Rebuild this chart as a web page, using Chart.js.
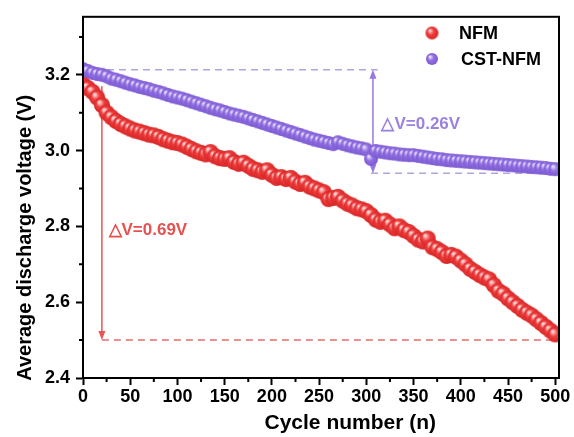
<!DOCTYPE html>
<html>
<head>
<meta charset="utf-8">
<script src="https://cdn.jsdelivr.net/npm/chart.js@4.4.0/dist/chart.umd.min.js"></script>
<style>
  html, body { margin: 0; padding: 0; background: #fff; }
</style>
</head>
<body>
<canvas id="chart" width="574" height="437"></canvas>
<script>
// cycle numbers sampled from the plot (every 5 cycles)
const cycles = [0, 5, 10, 15, 20, 25, 30, 35, 40, 45, 50, 55, 60, 65, 70, 75, 80, 85, 90, 95,
  100, 105, 110, 115, 120, 125, 130, 135, 140, 145, 150, 155, 160, 165, 170, 175, 180, 185, 190, 195,
  200, 205, 210, 215, 220, 225, 230, 235, 240, 245, 250, 255, 260, 265, 270, 275, 280, 285, 290, 295,
  300, 305, 310, 315, 320, 325, 330, 335, 340, 345, 350, 355, 360, 365, 370, 375, 380, 385, 390, 395,
  400, 405, 410, 415, 420, 425, 430, 435, 440, 445, 450, 455, 460, 465, 470, 475, 480, 485, 490, 495, 500];

// NFM average discharge voltage (V)
const nfm = [3.175, 3.165, 3.155, 3.14, 3.12, 3.10, 3.088, 3.078, 3.07, 3.064,
  3.058, 3.053, 3.05, 3.046, 3.042, 3.04, 3.036, 3.03, 3.026, 3.022,
  3.02, 3.016, 3.01, 3.004, 2.998, 2.994, 2.99, 2.996, 2.985, 2.98,
  2.978, 2.98, 2.97, 2.965, 2.968, 2.96, 2.952, 2.948, 2.944, 2.948,
  2.936, 2.928, 2.93, 2.925, 2.928, 2.918, 2.912, 2.915, 2.905, 2.90,
  2.895, 2.89, 2.872, 2.875, 2.878, 2.868, 2.86, 2.855, 2.848, 2.845,
  2.84, 2.83, 2.818, 2.812, 2.815, 2.805, 2.795, 2.80, 2.79, 2.785,
  2.775, 2.765, 2.76, 2.768, 2.745, 2.74, 2.732, 2.722, 2.725, 2.72,
  2.71, 2.70, 2.688, 2.68, 2.672, 2.665, 2.66, 2.645, 2.63, 2.622,
  2.61, 2.60, 2.59, 2.58, 2.572, 2.565, 2.555, 2.545, 2.535, 2.525, 2.515];

// CST-NFM average discharge voltage (V)
const cstNfm = [3.215, 3.21, 3.205, 3.202, 3.20, 3.196, 3.19, 3.187, 3.183, 3.179,
  3.175, 3.172, 3.168, 3.165, 3.162, 3.158, 3.155, 3.151, 3.147, 3.143,
  3.14, 3.137, 3.133, 3.129, 3.125, 3.121, 3.117, 3.113, 3.109, 3.106,
  3.102, 3.098, 3.095, 3.092, 3.089, 3.085, 3.081, 3.077, 3.073, 3.069,
  3.065, 3.061, 3.057, 3.053, 3.049, 3.045, 3.041, 3.037, 3.033, 3.029,
  3.026, 3.023, 3.02, 3.017, 3.022, 3.018, 3.014, 3.011, 3.008, 3.006,
  3.003, 2.978, 2.999, 2.997, 2.995, 2.993, 2.992, 2.99, 2.989, 2.988,
  2.988, 2.986, 2.984, 2.982, 2.98, 2.978, 2.977, 2.975, 2.974, 2.973,
  2.972, 2.971, 2.97, 2.969, 2.968, 2.967, 2.966, 2.965, 2.964, 2.963,
  2.962, 2.961, 2.96, 2.959, 2.958, 2.957, 2.956, 2.955, 2.954, 2.952, 2.951];

// axis ticks
const xTicks = [0, 50, 100, 150, 200, 250, 300, 350, 400, 450, 500];
const xMinor = [25, 75, 125, 175, 225, 275, 325, 375, 425, 475];
const yTicks = [2.4, 2.6, 2.8, 3.0, 3.2];
const yMinor = [2.5, 2.7, 2.9, 3.1, 3.3];

const xTitle = 'Cycle number (n)';
const yTitle = 'Average discharge voltage (V)';

// delta V annotations
const nfmDrop = { x: 20, from: 3.17, to: 2.5, lineEnd: 500, label: '△V=0.69V', labelX: 27, labelY: 2.789 };
const cstDrop = { x: 307, from: 3.213, to: 2.94, topLine: [0, 312], bottomLine: [305, 500], label: '△V=0.26V', labelX: 316, labelY: 3.069 };

const FONT = '"Liberation Sans", Arial, Helvetica, sans-serif';
const RED = 'rgb(240,62,62)';
const PURPLE = 'rgb(146,112,226)';

// glossy ball used as the point style
function makeBall(r, base, dark, light) {
  const c = document.createElement('canvas');
  c.width = c.height = Math.ceil(2 * r + 2);
  const g = c.getContext('2d');
  const m = c.width / 2;
  const grad = g.createRadialGradient(m - r * 0.35, m - r * 0.4, r * 0.08, m, m, r);
  grad.addColorStop(0, light);
  grad.addColorStop(0.45, base);
  grad.addColorStop(1, dark);
  g.fillStyle = grad;
  g.beginPath();
  g.arc(m, m, r, 0, Math.PI * 2);
  g.fill();
  return c;
}

const redBall = makeBall(8, RED, 'rgb(215,38,38)', 'rgb(255,220,220)');
const purpleBall = makeBall(7, PURPLE, 'rgb(124,90,210)', 'rgb(232,222,255)');
const redBallLegend = makeBall(6.5, RED, 'rgb(215,38,38)', 'rgb(255,220,220)');
const purpleBallLegend = makeBall(6, PURPLE, 'rgb(124,90,210)', 'rgb(232,222,255)');

function arrowHead(ctx, x, y, dir) {
  // dir = 1 pointing down, -1 pointing up
  ctx.beginPath();
  ctx.moveTo(x, y);
  ctx.lineTo(x - 3.5, y - dir * 9);
  ctx.lineTo(x + 3.5, y - dir * 9);
  ctx.closePath();
  ctx.fill();
}

const annotations = {
  id: 'annotations',
  beforeDatasetsDraw(chart) {
    const { ctx, scales: { x, y } } = chart;
    ctx.save();
    ctx.lineWidth = 1.5;

    // NFM dashed level + arrow
    ctx.strokeStyle = 'rgba(226,90,90,0.9)';
    ctx.setLineDash([7, 5]);
    ctx.beginPath();
    ctx.moveTo(x.getPixelForValue(nfmDrop.x), y.getPixelForValue(nfmDrop.to));
    ctx.lineTo(x.getPixelForValue(nfmDrop.lineEnd), y.getPixelForValue(nfmDrop.to));
    ctx.stroke();
    ctx.setLineDash([]);
    ctx.strokeStyle = 'rgb(232,84,84)';
    ctx.fillStyle = 'rgb(232,84,84)';
    const rx = x.getPixelForValue(nfmDrop.x);
    ctx.beginPath();
    ctx.moveTo(rx, y.getPixelForValue(nfmDrop.from));
    ctx.lineTo(rx, y.getPixelForValue(nfmDrop.to) - 4);
    ctx.stroke();
    arrowHead(ctx, rx, y.getPixelForValue(nfmDrop.to), 1);

    // CST-NFM dashed levels + double arrow
    ctx.strokeStyle = 'rgba(170,155,220,0.9)';
    ctx.setLineDash([7, 5]);
    ctx.beginPath();
    ctx.moveTo(x.getPixelForValue(cstDrop.topLine[0]), y.getPixelForValue(cstDrop.from));
    ctx.lineTo(x.getPixelForValue(cstDrop.topLine[1]), y.getPixelForValue(cstDrop.from));
    ctx.moveTo(x.getPixelForValue(cstDrop.bottomLine[0]), y.getPixelForValue(cstDrop.to));
    ctx.lineTo(x.getPixelForValue(cstDrop.bottomLine[1]), y.getPixelForValue(cstDrop.to));
    ctx.stroke();
    ctx.setLineDash([]);
    ctx.strokeStyle = 'rgb(150,120,225)';
    ctx.fillStyle = 'rgb(150,120,225)';
    const px = x.getPixelForValue(cstDrop.x);
    ctx.beginPath();
    ctx.moveTo(px, y.getPixelForValue(cstDrop.from) + 4);
    ctx.lineTo(px, y.getPixelForValue(cstDrop.to) - 4);
    ctx.stroke();
    arrowHead(ctx, px, y.getPixelForValue(cstDrop.from), -1);
    arrowHead(ctx, px, y.getPixelForValue(cstDrop.to), 1);

    // labels
    ctx.font = 'bold 17px ' + FONT;
    ctx.textAlign = 'left';
    ctx.textBaseline = 'middle';
    ctx.fillStyle = 'rgb(230,80,78)';
    ctx.fillText(nfmDrop.label, x.getPixelForValue(nfmDrop.labelX), y.getPixelForValue(nfmDrop.labelY));
    ctx.fillStyle = 'rgb(155,130,222)';
    ctx.fillText(cstDrop.label, x.getPixelForValue(cstDrop.labelX), y.getPixelForValue(cstDrop.labelY));
    ctx.restore();
  },
  afterDraw(chart) {
    const { ctx, chartArea: a, scales: { x, y } } = chart;
    ctx.save();
    // frame
    ctx.strokeStyle = '#000';
    ctx.lineWidth = 2;
    ctx.strokeRect(a.left, a.top, a.right - a.left, a.bottom - a.top);
    // minor ticks
    ctx.beginPath();
    xMinor.forEach(v => {
      const p = x.getPixelForValue(v);
      ctx.moveTo(p, a.bottom);
      ctx.lineTo(p, a.bottom + 4);
    });
    yMinor.forEach(v => {
      const p = y.getPixelForValue(v);
      ctx.moveTo(a.left, p);
      ctx.lineTo(a.left - 4, p);
    });
    ctx.stroke();

    // axis titles (sit a little off-centre in the original figure)
    ctx.fillStyle = '#000';
    ctx.font = 'bold 21px ' + FONT;
    ctx.textAlign = 'center';
    ctx.textBaseline = 'middle';
    ctx.fillText(xTitle, x.getPixelForValue(283), 423);
    ctx.save();
    ctx.font = 'bold 20px ' + FONT;
    ctx.translate(25, y.getPixelForValue(2.77));
    ctx.rotate(-Math.PI / 2);
    ctx.fillText(yTitle, 0, 0);
    ctx.restore();

    // legend
    const lx = a.right - 127;
    ctx.drawImage(redBallLegend, lx - redBallLegend.width / 2, 33 - redBallLegend.height / 2);
    ctx.drawImage(purpleBallLegend, lx - purpleBallLegend.width / 2, 59 - purpleBallLegend.height / 2);
    ctx.font = 'bold 18px ' + FONT;
    ctx.textAlign = 'left';
    ctx.fillText(chart.data.datasets[0].label, lx + 27, 34);
    ctx.fillText(chart.data.datasets[1].label, lx + 29, 60);
    ctx.restore();
  }
};

const ctx = document.getElementById('chart').getContext('2d');
const chart = new Chart(ctx, {
  type: 'scatter',
  data: {
    datasets: [
      {
        label: 'NFM',
        data: cycles.map((c, i) => ({ x: c, y: nfm[i] })),
        pointStyle: redBall,
        order: 2
      },
      {
        label: 'CST-NFM',
        data: cycles.map((c, i) => ({ x: c, y: cstNfm[i] })),
        pointStyle: purpleBall,
        order: 1
      }
    ]
  },
  options: {
    responsive: false,
    animation: false,
    layout: { padding: { top: 15, right: 15, left: 0, bottom: 0 } },
    plugins: {
      legend: { display: false },
      tooltip: { enabled: false }
    },
    scales: {
      x: {
        type: 'linear',
        min: 0,
        max: 504,
        afterBuildTicks: s => { s.ticks = xTicks.map(v => ({ value: v })); },
        afterFit: s => { s.height = 59; },
        grid: { display: true, drawOnChartArea: false, drawTicks: true, tickLength: 7, tickWidth: 2, tickColor: '#000' },
        border: { display: true, color: '#000', width: 2 },
        ticks: {
          color: '#000',
          padding: 1,
          maxRotation: 0,
          autoSkip: false,
          font: { family: FONT, size: 18, weight: 'bold' }
        }
      },
      y: {
        min: 2.4,
        max: 3.353,
        afterBuildTicks: s => { s.ticks = yTicks.map(v => ({ value: v })); },
        afterFit: s => { s.width = 83; },
        grid: { display: true, drawOnChartArea: false, drawTicks: true, tickLength: 7, tickWidth: 2, tickColor: '#000' },
        border: { display: true, color: '#000', width: 2 },
        ticks: {
          color: '#000',
          padding: 6,
          callback: v => v.toFixed(1),
          font: { family: FONT, size: 18, weight: 'bold' }
        }
      }
    }
  },
  plugins: [annotations]
});
</script>
</body>
</html>
